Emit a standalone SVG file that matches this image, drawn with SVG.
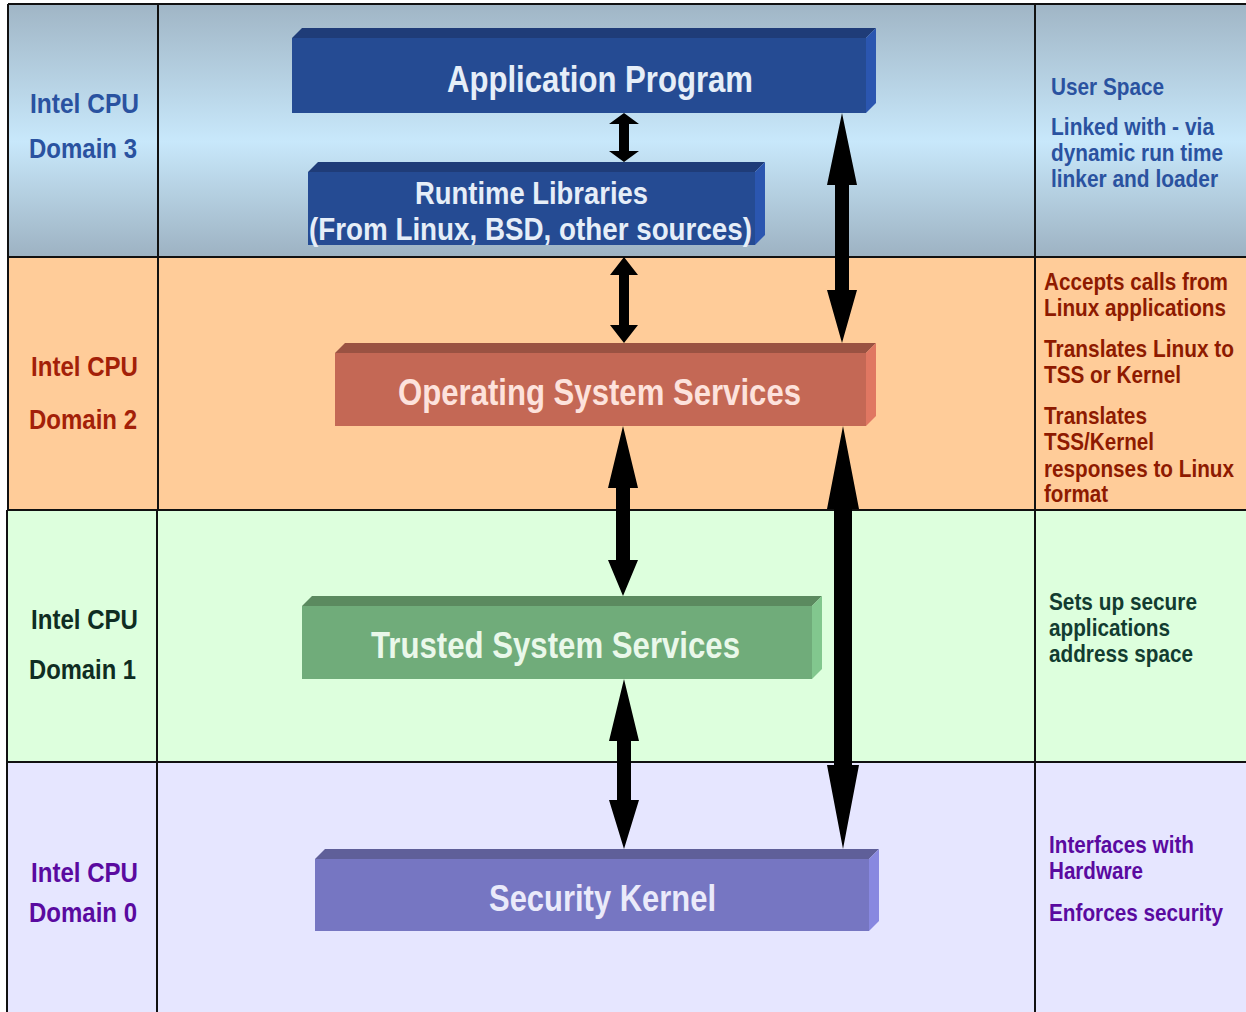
<svg xmlns="http://www.w3.org/2000/svg" width="1246" height="1012" viewBox="0 0 1246 1012">
<defs>
<linearGradient id="gTop" x1="0" y1="0" x2="0" y2="1">
<stop offset="0" stop-color="#9fb4c4"/>
<stop offset="0.55" stop-color="#c8e8fb"/>
<stop offset="1" stop-color="#9db2c2"/>
</linearGradient>
<style>
.lbl{font-family:"Liberation Sans",Arial,sans-serif;font-weight:bold}
.dl{font-size:28px}
.rt{font-size:24px}
.bx{font-size:37px}
.grid{stroke:#111;stroke-width:2;fill:none}
.arr{fill:#000}
</style>
</defs>
<g id="bands">
<rect x="0" y="0" width="1246" height="257" fill="url(#gTop)"/>
<rect x="0" y="0" width="8" height="1012" fill="#fff"/>
<rect x="8" y="257" width="1238" height="253" fill="#ffcc99"/>
<rect x="8" y="510" width="1238" height="252" fill="#ddffdd"/>
<rect x="7" y="762" width="1239" height="250" fill="#e6e6ff"/>
<rect x="0" y="0" width="1246" height="4" fill="#fff"/>
</g>
<g id="grid" class="grid">
<line x1="8" y1="4" x2="1246" y2="4"/>
<line x1="8" y1="4" x2="8" y2="510"/>
<line x1="7" y1="510" x2="7" y2="1012"/>
<line x1="158" y1="4" x2="158" y2="510"/>
<line x1="157" y1="510" x2="157" y2="1012"/>
<line x1="1035" y1="4" x2="1035" y2="1012"/>
<line x1="8" y1="257" x2="1246" y2="257"/>
<line x1="8" y1="510" x2="1246" y2="510"/>
<line x1="7" y1="762" x2="1246" y2="762"/>
</g>
<g id="domain3-label" class="lbl dl" fill="#2a52a0">
<text x="30" y="113" textLength="109" lengthAdjust="spacingAndGlyphs">Intel CPU</text>
<text x="29" y="158" textLength="108" lengthAdjust="spacingAndGlyphs">Domain 3</text>
</g>
<g id="domain2-label" class="lbl dl" fill="#a32008">
<text x="31" y="376" textLength="107" lengthAdjust="spacingAndGlyphs">Intel CPU</text>
<text x="29" y="429" textLength="108" lengthAdjust="spacingAndGlyphs">Domain 2</text>
</g>
<g id="domain1-label" class="lbl dl" fill="#0f2d22">
<text x="31" y="629" textLength="107" lengthAdjust="spacingAndGlyphs">Intel CPU</text>
<text x="29" y="679" textLength="107" lengthAdjust="spacingAndGlyphs">Domain 1</text>
</g>
<g id="domain0-label" class="lbl dl" fill="#5a0aa0">
<text x="31" y="882" textLength="107" lengthAdjust="spacingAndGlyphs">Intel CPU</text>
<text x="29" y="922" textLength="108" lengthAdjust="spacingAndGlyphs">Domain 0</text>
</g>
<g id="app-program">
<polygon points="292,38 302,28 876,28 866,38" fill="#1f3c78"/>
<polygon points="866,38 876,28 876,103 866,113" fill="#2b56b0"/>
<rect x="292" y="38" width="574" height="75" fill="#254b93"/>
<text class="lbl bx" x="447" y="92" textLength="306" lengthAdjust="spacingAndGlyphs" fill="#e6eef8">Application Program</text>
</g>
<g id="runtime-libraries">
<polygon points="308,172 318,162 765,162 755,172" fill="#1f3c78"/>
<polygon points="755,172 765,162 765,235 755,245" fill="#2b56b0"/>
<rect x="308" y="172" width="447" height="73" fill="#254b93"/>
<text class="lbl" x="415" y="204" font-size="32" textLength="233" lengthAdjust="spacingAndGlyphs" fill="#e6eef8">Runtime Libraries</text>
<text class="lbl" x="309" y="240" font-size="32" textLength="443" lengthAdjust="spacingAndGlyphs" fill="#e6eef8">(From Linux, BSD, other sources)</text>
</g>
<g id="os-services">
<polygon points="335,353 345,343 876,343 866,353" fill="#9a5242"/>
<polygon points="866,353 876,343 876,416 866,426" fill="#e07762"/>
<rect x="335" y="353" width="531" height="73" fill="#c46855"/>
<text class="lbl bx" x="398" y="405" textLength="403" lengthAdjust="spacingAndGlyphs" fill="#fde2dc">Operating System Services</text>
</g>
<g id="trusted-services">
<polygon points="302,606 312,596 822,596 812,606" fill="#5b8a5f"/>
<polygon points="812,606 822,596 822,669 812,679" fill="#82c78e"/>
<rect x="302" y="606" width="510" height="73" fill="#70ac7a"/>
<text class="lbl bx" x="371" y="658" textLength="369" lengthAdjust="spacingAndGlyphs" fill="#eaf8ea">Trusted System Services</text>
</g>
<g id="security-kernel">
<polygon points="315,859 325,849 879,849 869,859" fill="#5f5f99"/>
<polygon points="869,859 879,849 879,921 869,931" fill="#8888e0"/>
<rect x="315" y="859" width="554" height="72" fill="#7676c2"/>
<text class="lbl bx" x="489" y="911" textLength="227" lengthAdjust="spacingAndGlyphs" fill="#eaeafa">Security Kernel</text>
</g>
<g id="connectors" class="arr">
<polygon points="624,113 639,124 629,124 629,151 639,151 624,162 609,151 619,151 619,124 609,124"/>
<polygon points="624,257 638,275 629,275 629,325 638,325 624,343 610,325 619,325 619,275 610,275"/>
<polygon points="623,426 638,488 630,488 630,560 638,560 623,596 608,560 616,560 616,488 608,488"/>
<polygon points="624,679 639,741 631,741 631,800 639,800 624,849 609,800 617,800 617,741 609,741"/>
<polygon points="842,113 857,185 849,185 849,290 857,290 842,343 827,290 835,290 835,185 827,185"/>
<polygon points="843,426 859,509 852,509 852,765 859,765 843,849 827,765 834,765 834,509 827,509"/>
</g>
<g id="domain3-notes" class="lbl rt" fill="#2a52a0" transform="translate(1051,0) scale(0.87,1)">
<text x="0" y="95" textLength="129.9" lengthAdjust="spacingAndGlyphs">User Space</text>
<text x="0" y="135" textLength="187.4" lengthAdjust="spacingAndGlyphs">Linked with - via</text>
<text x="0" y="161" textLength="197.7" lengthAdjust="spacingAndGlyphs">dynamic run time</text>
<text x="0" y="187" textLength="192" lengthAdjust="spacingAndGlyphs">linker and loader</text>
</g>
<g id="domain2-notes" class="lbl rt" fill="#8e1a00" transform="translate(1044,0) scale(0.87,1)">
<text x="0" y="290" textLength="211.5" lengthAdjust="spacingAndGlyphs">Accepts calls from</text>
<text x="0" y="316" textLength="209.2" lengthAdjust="spacingAndGlyphs">Linux applications</text>
<text x="0" y="357" textLength="218.4" lengthAdjust="spacingAndGlyphs">Translates Linux to</text>
<text x="0" y="383" textLength="157.5" lengthAdjust="spacingAndGlyphs">TSS or Kernel</text>
<text x="0" y="424" textLength="118.4" lengthAdjust="spacingAndGlyphs">Translates</text>
<text x="0" y="450" textLength="126.4" lengthAdjust="spacingAndGlyphs">TSS/Kernel</text>
<text x="0" y="477" textLength="218.4" lengthAdjust="spacingAndGlyphs">responses to Linux</text>
<text x="0" y="502" textLength="73.6" lengthAdjust="spacingAndGlyphs">format</text>
</g>
<g id="domain1-notes" class="lbl rt" fill="#123c30" transform="translate(1049,0) scale(0.87,1)">
<text x="0" y="610" textLength="170.1" lengthAdjust="spacingAndGlyphs">Sets up secure</text>
<text x="0" y="636" textLength="139.1" lengthAdjust="spacingAndGlyphs">applications</text>
<text x="0" y="662" textLength="165.5" lengthAdjust="spacingAndGlyphs">address space</text>
</g>
<g id="domain0-notes" class="lbl rt" fill="#5a0aa0" transform="translate(1049,0) scale(0.87,1)">
<text x="0" y="853" textLength="166.7" lengthAdjust="spacingAndGlyphs">Interfaces with</text>
<text x="0" y="879" textLength="108" lengthAdjust="spacingAndGlyphs">Hardware</text>
<text x="0" y="921" textLength="200" lengthAdjust="spacingAndGlyphs">Enforces security</text>
</g>
</svg>
